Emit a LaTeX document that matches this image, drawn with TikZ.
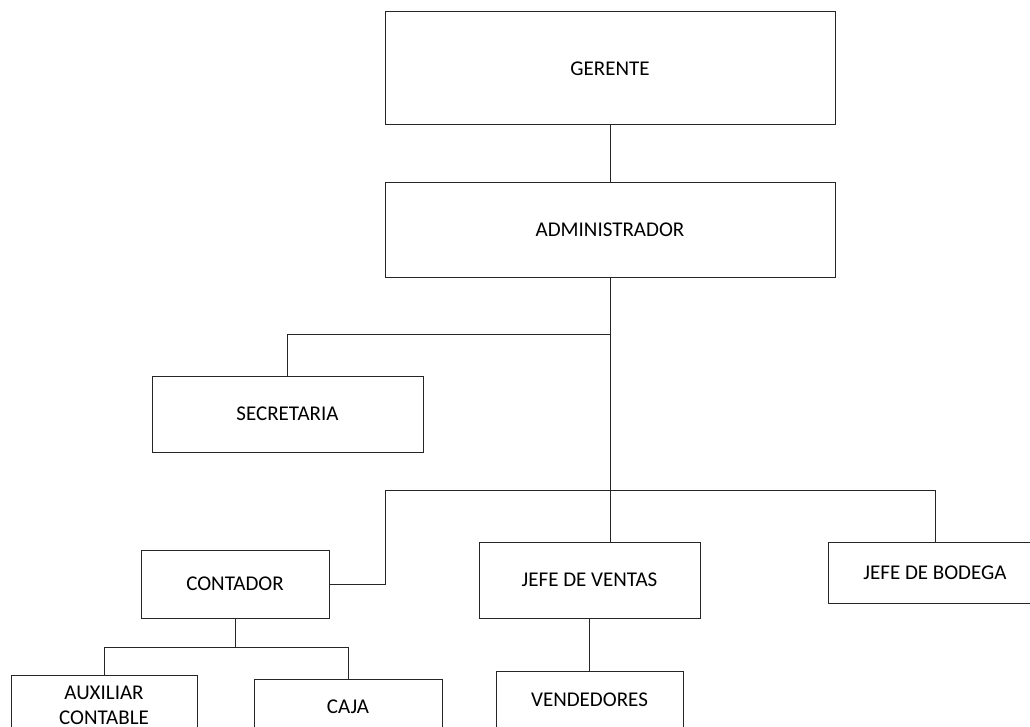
\documentclass[tikz,border=0pt]{standalone}
\usepackage{fontspec}
\setmainfont{Carlito}
\begin{document}
\begin{tikzpicture}[x=1pt,y=-1pt,
  orgbox/.style={draw=black!85, line width=1pt, rectangle, inner sep=0pt, align=center,
    font=\fontsize{21}{25}\selectfont},
  conn/.style={draw=black!85, line width=1pt}]
\useasboundingbox (0,0) rectangle (1030,727);
\clip (0,0) rectangle (1030,727);
\node[orgbox, minimum width=450, minimum height=113] (ger) at (610,68.5) {GERENTE};
\node[orgbox, minimum width=450, minimum height=94] (adm) at (610,230) {ADMINISTRADOR};
\node[orgbox, minimum width=271, minimum height=76] (sec) at (287.5,414) {SECRETARIA};
\node[orgbox, minimum width=188, minimum height=68] (cont) at (235,584) {CONTADOR};
\node[orgbox, minimum width=221, minimum height=76] (jv) at (589.5,580) {JEFE DE VENTAS};
\node[orgbox, minimum width=214, minimum height=61] (bod) at (935,572.5) {JEFE DE BODEGA};
\node[orgbox, minimum width=186, minimum height=60] (aux) at (104,705) {AUXILIAR\\CONTABLE};
\node[orgbox, minimum width=188, minimum height=56] (caja) at (348,707) {CAJA};
\node[orgbox, minimum width=187, minimum height=58] (ven) at (589.5,700) {VENDEDORES};
\coordinate (j1) at (610,334);
\coordinate (j2) at (610,490);
\coordinate (j3) at (385,490);
\coordinate (j4) at (235,647);
\draw[conn] (ger.south) -- (adm.north);
\draw[conn] (adm.south) -- (j2);
\draw[conn] (j1) -| (sec.north);
\draw[conn] (j2) -- (j3) |- (cont.east);
\draw[conn] (j2) -- (j2 |- jv.north);
\draw[conn] (j2) -| (bod.north);
\draw[conn] (jv.south) -- (ven.north);
\draw[conn] (cont.south) -- (j4);
\draw[conn] (j4) -| (aux.north);
\draw[conn] (j4) -| (caja.north);
\end{tikzpicture}
\end{document}
